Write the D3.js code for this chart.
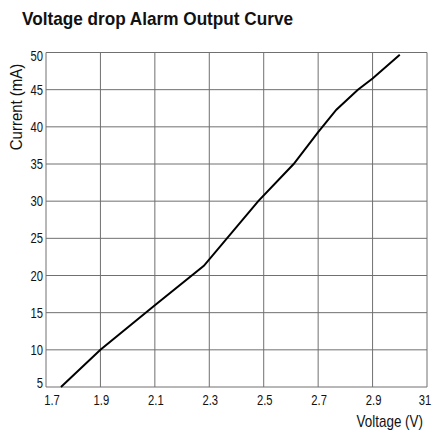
<!DOCTYPE html>
<html>
<head>
<meta charset="utf-8">
<script src="https://cdn.jsdelivr.net/npm/d3@7"></script>
<style>
  body { margin: 0; background: #fff; }
  text { font-family: "Liberation Sans", Arial, sans-serif; fill: #111; }
</style>
</head>
<body>
<svg id="chart" width="432" height="432"></svg>
<script>
// curve
var voltage = [1.755, 1.9, 2.1, 2.28, 2.48, 2.61, 2.7, 2.767, 2.846, 2.9, 3.0];
var current = [5, 10, 16, 21.3, 30, 35, 39.3, 42.3, 45, 46.5, 49.7];

var xTicks = [1.7, 1.9, 2.1, 2.3, 2.5, 2.7, 2.9, 3.1];
var xTickLabels = ["1.7", "1.9", "2.1", "2.3", "2.5", "2.7", "2.9", "31"];
var yTicks = [5, 10, 15, 20, 25, 30, 35, 40, 45, 50];

var svg = d3.select("#chart");

var x = d3.scaleLinear().domain([1.7, 3.1]).range([46, 427]);
var y = d3.scaleLinear().domain([5, 50]).range([387, 52.5]);

// no narrow font here, so squeeze the text sideways
function narrowText(parent, px, py, sx, rot) {
    var tr = "translate(" + px + "," + py + ")";
    if (rot) tr += " rotate(" + rot + ")";
    tr += " scale(" + sx + ",1)";
    return parent.append("g").attr("transform", tr).append("text");
}

// title
svg.append("text")
    .attr("x", 22)
    .attr("y", 25)
    .attr("font-size", 19)
    .attr("font-weight", "bold")
    .attr("textLength", 271)
    .attr("lengthAdjust", "spacingAndGlyphs")
    .text("Voltage drop Alarm Output Curve");

// grid
var grid = svg.append("g").attr("class", "grid");
grid.selectAll(".vline")
    .data(xTicks)
    .enter().append("line")
    .attr("class", "vline")
    .attr("x1", function(d) { return x(d); })
    .attr("x2", function(d) { return x(d); })
    .attr("y1", y(5))
    .attr("y2", y(50))
    .attr("stroke", "#707070")
    .attr("stroke-width", 1);

grid.selectAll(".hline")
    .data(yTicks)
    .enter().append("line")
    .attr("class", "hline")
    .attr("x1", x(1.7))
    .attr("x2", x(3.1))
    .attr("y1", function(d) { return y(d); })
    .attr("y2", function(d) { return y(d); })
    .attr("stroke", "#707070")
    .attr("stroke-width", 1);

// y tick labels
var yLab = svg.append("g");
yTicks.forEach(function(d) {
    var off = 5;
    if (d == 50) off = 8;   // top label sits lower
    if (d == 5) off = 1;    // bottom one sits higher
    narrowText(yLab, 43, y(d) + off, 0.75)
        .attr("text-anchor", "end")
        .attr("font-size", 15)
        .text(d);
});

// x tick labels
var xLab = svg.append("g");
xTicks.forEach(function(d, i) {
    var off = 1;
    if (i == 0) off = 6;
    if (i == xTicks.length - 1) off = -2;
    narrowText(xLab, x(d) + off, 405, 0.75)
        .attr("text-anchor", "middle")
        .attr("font-size", 15)
        .text(xTickLabels[i]);
});

// axis titles
narrowText(svg, 423, 427, 0.84)
    .attr("text-anchor", "end")
    .attr("font-size", 16)
    .text("Voltage (V)");

narrowText(svg, 22, 107, 0.88, -90)
    .attr("text-anchor", "middle")
    .attr("font-size", 17)
    .text("Current (mA)");

// the curve
var pts = voltage.map(function(v, i) { return [v, current[i]]; });
var line = d3.line()
    .x(function(d) { return x(d[0]); })
    .y(function(d) { return y(d[1]); });

svg.append("path")
    .datum(pts)
    .attr("d", line)
    .attr("fill", "none")
    .attr("stroke", "#000")
    .attr("stroke-width", 2);
</script>
</body>
</html>
